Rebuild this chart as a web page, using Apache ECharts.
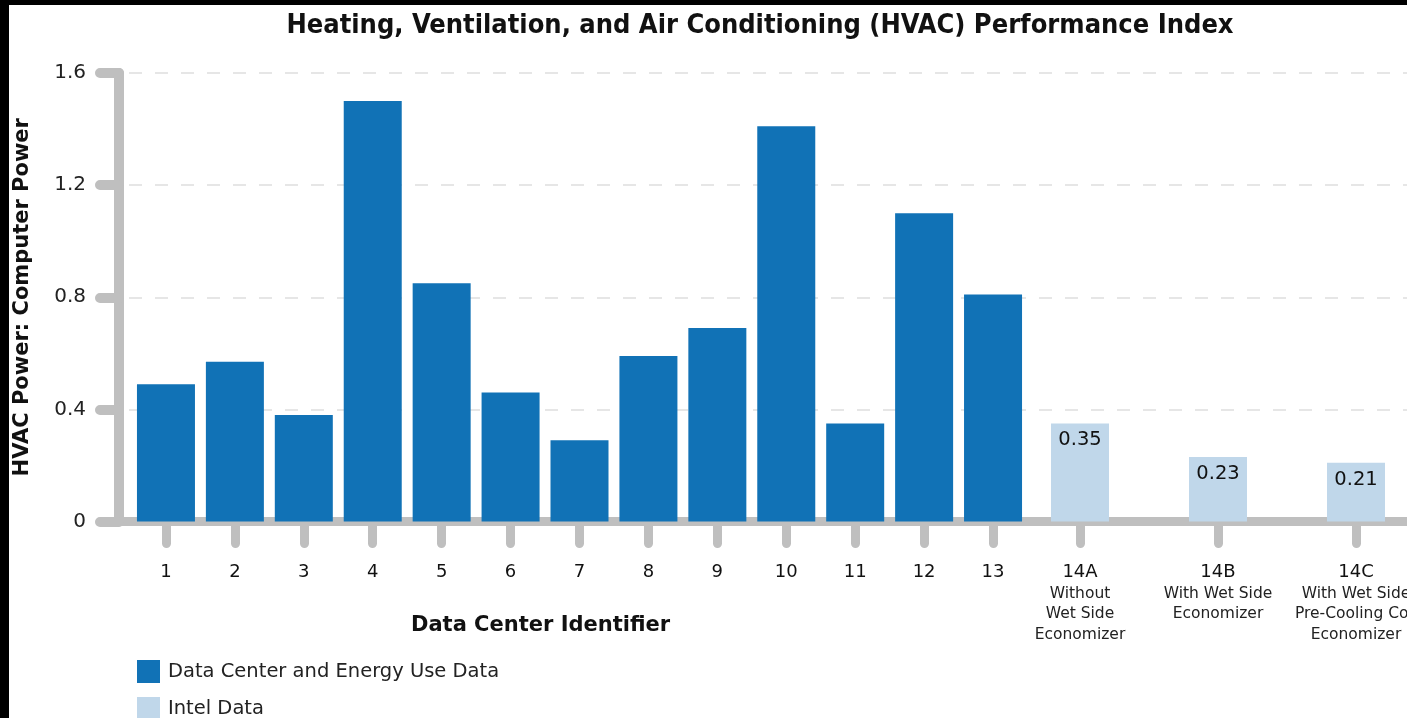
<!DOCTYPE html>
<html>
<head>
<meta charset="utf-8">
<script src="https://cdn.jsdelivr.net/npm/echarts@6/dist/echarts.min.js"></script>
<style>
  html, body { margin: 0; padding: 0; background: #000; overflow: hidden; width: 1407px; height: 718px; }
  #chart { position: absolute; left: 9px; top: 5px; width: 1430px; height: 770px; background: #fff; }
</style>
</head>
<body>
<div id="chart"></div>
<script>
// data
var centerIds = ['1','2','3','4','5','6','7','8','9','10','11','12','13'];
var centerValues = [0.49, 0.57, 0.38, 1.50, 0.85, 0.46, 0.29, 0.59, 0.69, 1.41, 0.35, 1.10, 0.81];
var intelIds = ['14A', '14B', '14C'];
var intelNotes = ['Without\nWet Side\nEconomizer', 'With Wet Side\nEconomizer', 'With Wet Side\nPre-Cooling Coil\nEconomizer'];
var intelValues = [0.35, 0.23, 0.21];
var yTicks = [0, 0.4, 0.8, 1.2, 1.6];

var gray = '#bfbfbf';
var font = 'DejaVu Sans';

var chart = echarts.init(document.getElementById('chart'));

// rich label for 14A/14B/14C: id on first line, note below
function intelLabel(v) {
    var i = intelIds.indexOf(v);
    var lines = intelNotes[i].split('\n');
    var s = '{a|' + v + '}';
    for (var k = 0; k < lines.length; k++) s += '\n{b|' + lines[k] + '}';
    return s;
}

var tickStyle = { color: gray, width: 9, cap: 'round' };

option = {
    animation: false,
    textStyle: { fontFamily: font },
    title: [{
        text: 'Heating, Ventilation, and Air Conditioning (HVAC) Performance Index',
        left: 746, top: 2, textAlign: 'center',
        textStyle: { fontFamily: 'DejaVu Sans Condensed', fontWeight: 'bold', fontSize: 27, color: '#111' }
    }, {
        text: 'Data Center Identifier',
        left: 397, top: 605,
        textStyle: { fontFamily: font, fontWeight: 'bold', fontSize: 21, color: '#111' }
    }],
    legend: {
        orient: 'vertical',
        left: 123, top: 650,
        itemWidth: 23, itemHeight: 23, itemGap: 14,
        icon: 'rect',
        textStyle: { fontFamily: font, fontSize: 19.5, color: '#222', padding: [0, 0, 0, 3] },
        data: ['Data Center and Energy Use Data', 'Intel Data']
    },
    grid: [
        { left: 122.5, top: 68, width: 896, height: 448.5, outerBoundsMode: 'none' },
        { left: 1002, top: 68, width: 414, height: 448.5, outerBoundsMode: 'none' },
        { left: 94, top: 68, width: 1360, height: 448.5, outerBoundsMode: 'none' }
    ],
    xAxis: [{
        type: 'category', gridIndex: 0, data: centerIds,
        axisLine: { show: false },
        axisTick: { show: true, alignWithLabel: true, length: 22, lineStyle: tickStyle },
        axisLabel: { interval: 0, margin: 40, fontSize: 18, lineHeight: 22, color: '#111', fontFamily: font }
    }, {
        type: 'category', gridIndex: 1, data: intelIds,
        axisLine: { show: false },
        axisTick: { show: true, alignWithLabel: true, length: 22, lineStyle: tickStyle },
        axisLabel: {
            interval: 0, hideOverlap: false,
            margin: 40, color: '#111', formatter: intelLabel,
            rich: {
                a: { fontSize: 18, lineHeight: 22, fontFamily: font, color: '#111' },
                b: { fontSize: 15.5, lineHeight: 20.5, fontFamily: font, color: '#222' }
            }
        }
    }, {
        type: 'value', gridIndex: 2, min: 0, max: 1,
        axisLine: { show: true, lineStyle: { color: gray, width: 9, cap: 'round' } },
        axisTick: { show: false }, axisLabel: { show: false }, splitLine: { show: false }
    }],
    yAxis: [{
        type: 'value', gridIndex: 0, min: 0, max: 1.6, interval: 0.4, offset: 12.5, z: 5,
        name: 'HVAC Power: Computer Power', nameLocation: 'middle', nameGap: 86,
        nameTextStyle: { fontFamily: font, fontWeight: 'bold', fontSize: 21, color: '#111' },
        axisLine: { show: true, lineStyle: { color: gray, width: 10 } },
        axisTick: { show: true, length: 19, lineStyle: { color: gray, width: 10, cap: 'round' } },
        axisLabel: { margin: 33, fontSize: 20, color: '#222', fontFamily: font },
        splitLine: { show: false }
    }, {
        type: 'value', gridIndex: 1, min: 0, max: 1.6, interval: 0.4, show: false
    }, {
        type: 'value', gridIndex: 2, min: 0, max: 1.6, interval: 0.4,
        axisLine: { show: false }, axisTick: { show: false }, axisLabel: { show: false },
        splitLine: { show: true, lineStyle: { color: '#e6e6e6', width: 2, type: [13, 13] } }
    }],
    series: [{
        name: 'Data Center and Energy Use Data',
        type: 'bar', xAxisIndex: 0, yAxisIndex: 0,
        barWidth: 58,
        itemStyle: { color: '#1172b6' },
        data: centerValues
    }, {
        name: 'Intel Data',
        type: 'bar', xAxisIndex: 1, yAxisIndex: 1,
        barWidth: 58,
        itemStyle: { color: '#c0d7ea' },
        label: {
            show: true, position: 'insideTop', distance: 7,
            fontSize: 19.5, color: '#111', fontFamily: font
        },
        data: intelValues
    }]
};
chart.setOption(option);
</script>
</body>
</html>
